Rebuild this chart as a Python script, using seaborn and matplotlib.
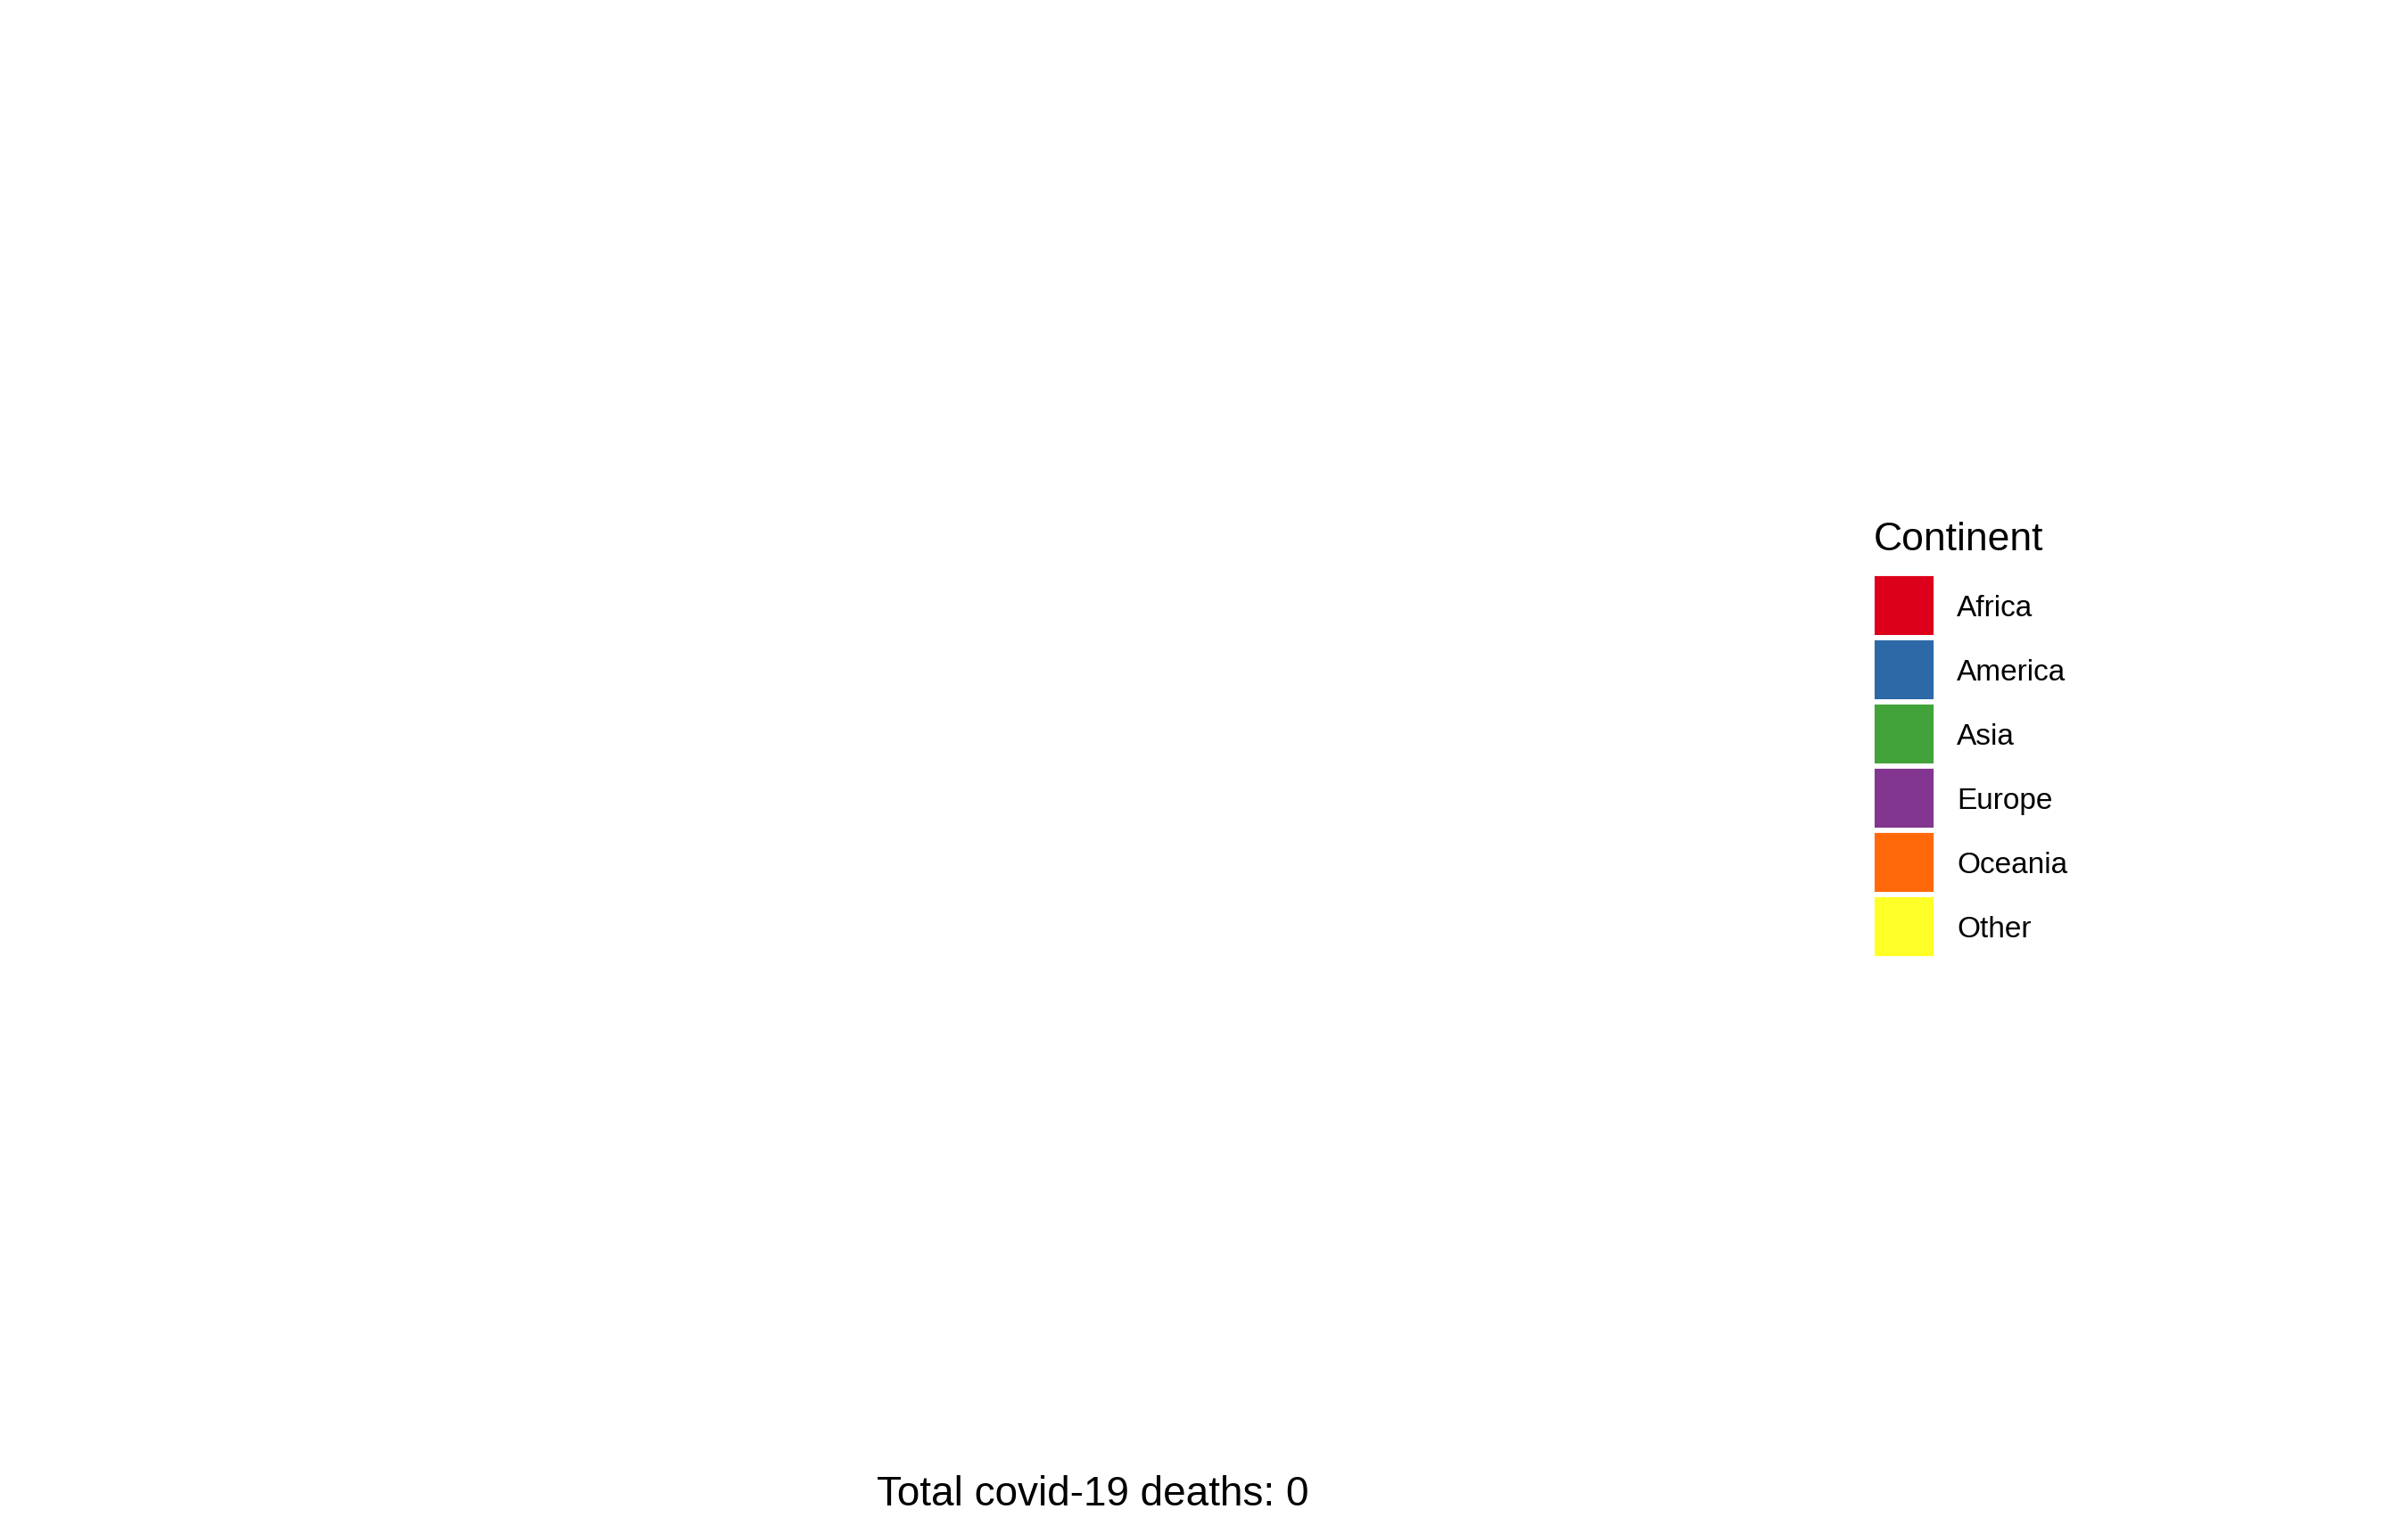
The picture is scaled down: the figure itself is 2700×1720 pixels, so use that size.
import matplotlib
matplotlib.use("Agg")
import matplotlib.pyplot as plt
import seaborn as sns
import pandas as pd

# Data: deaths per continent (all zero in this snapshot)
continents = ["Africa", "America", "Asia", "Europe", "Oceania", "Other"]
deaths = [0, 0, 0, 0, 0, 0]
colors = ["#DC001A", "#2D69A6", "#42A33A", "#83368F", "#FF690A", "#FFFF28"]
total_deaths = sum(deaths)

df = pd.DataFrame({"Continent": continents, "Deaths": deaths})

sns.set_style("white")
plt.rcParams["font.family"] = ["Liberation Sans", "DejaVu Sans"]
plt.rcParams["text.color"] = "black"

fig = plt.figure(figsize=(13.5, 8.6), dpi=200)
ax = fig.add_axes([0.02, 0.06, 0.72, 0.9])
sns.barplot(data=df, x="Continent", y="Deaths", hue="Continent",
            palette=colors, saturation=1, ax=ax, legend=True)
ax.set_ylim(0, 1)
ax.set_axis_off()

handles, labels = ax.get_legend_handles_labels()
ax.get_legend().remove()
for h in handles:
    h.set_edgecolor("white")
    h.set_linewidth(2.1)

leg = fig.legend(handles, labels, title="Continent",
                 loc="upper left", bbox_to_anchor=(2099 / 2700, 1 - 585 / 1720),
                 frameon=False, fontsize=12, title_fontsize=16,
                 handlelength=2.16, handleheight=2.946, labelspacing=0,
                 handletextpad=0.7, borderpad=0, borderaxespad=0)
leg._legend_box.align = "left"
leg._legend_box.sep = 6
# nudge labels down a little so they sit centred on the keys
for t in leg.get_texts():
    t.set_y(-3)
leg.get_title().set_x(2)

fig.text(1225 / 2700, 1 - 1688 / 1720, f"Total covid-19 deaths: {total_deaths}",
         ha="center", va="baseline", fontsize=16.5)

fig.savefig("out.png", dpi=200, facecolor="white")
